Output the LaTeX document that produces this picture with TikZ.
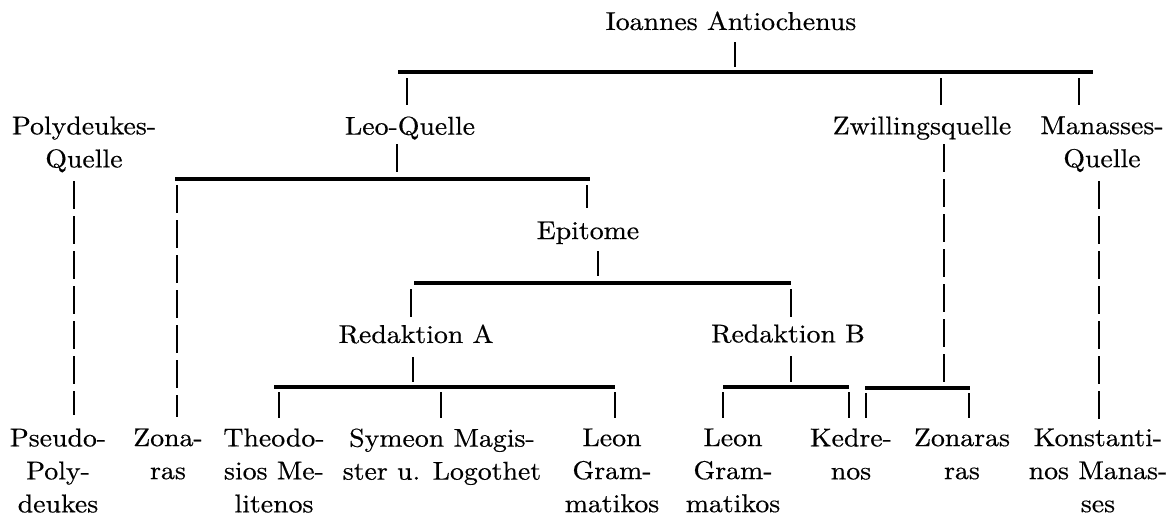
\documentclass[tikz,border=0pt]{standalone}
\usepackage{fontspec}
\setmainfont{lmroman10-regular.otf}[FakeStretch=1.08,FakeBold=0.5]
\begin{document}
\begin{tikzpicture}[x=0.4pt,y=-0.4pt,
  lbl/.style={anchor=north, inner sep=0pt, align=center, font=\fontsize{10.3}{13.2}\selectfont},
  bar/.style={line width=1.3pt},
  tick/.style={line width=0.7pt},
  dsh/.style={line width=0.7pt, dash pattern=on 11pt off 3pt}]
\useasboundingbox (0,0) rectangle (1168,522);
\fill[white] (0,0) rectangle (1168,522);
% labels
\node[lbl] (ioannes) at (731,11) {Ioannes Antiochenus};
\node[lbl] (polyq) at (84,116) {Polydeukes-\\Quelle};
\node[lbl] (leo) at (410,116) {Leo-Quelle};
\node[lbl] (zwill) at (922,116) {Zwillingsquelle};
\node[lbl] (manq) at (1102,116) {Manasses-\\Quelle};
\node[lbl] (epitome) at (588,221) {Epitome};
\node[lbl] (redA) at (416,324) {Redaktion A};
\node[lbl] (redB) at (788,324) {Redaktion B};
\node[lbl] (pseudo) at (58,428) {Pseudo-\\Poly-\\deukes};
\node[lbl] (zon1) at (168,428) {Zona-\\ras};
\node[lbl] (theo) at (274,428) {Theodo-\\sios Me-\\litenos};
\node[lbl] (sym) at (442,428) {Symeon Magis-\\ster u. Logothet};
\node[lbl] (leonA) at (612,428) {Leon\\Gram-\\matikos};
\node[lbl] (leonB) at (733,428) {Leon\\Gram-\\matikos};
\node[lbl] (kedr) at (851,428) {Kedre-\\nos};
\node[lbl] (zon2) at (962,428) {Zonaras\\ras};
\node[lbl] (konst) at (1098,428) {Konstanti-\\nos Manas-\\ses};
% bar coordinates
\coordinate (b1w) at (398,72);  \coordinate (b1e) at (1093,72);
\coordinate (b2w) at (175,179); \coordinate (b2e) at (590,179);
\coordinate (b3w) at (414,283); \coordinate (b3e) at (791,283);
\coordinate (bAw) at (274,387); \coordinate (bAe) at (615,387);
\coordinate (bBw) at (723,387); \coordinate (bBe) at (849,387);
\coordinate (bZw) at (865,388); \coordinate (bZe) at (970,388);
% junctions
\coordinate (j1) at (735,72);
\coordinate (j2) at (407,72);
\coordinate (j3) at (941,72);
\coordinate (j4) at (1079,72);
\coordinate (j5) at (397,179);
\coordinate (j6) at (587,179);
\coordinate (j7) at (177,179);
\coordinate (j8) at (598,283);
\coordinate (j9) at (411,283);
\coordinate (j10) at (791,283);
\coordinate (j11) at (413,387);
\coordinate (j12) at (791,387);
\coordinate (j13) at (279,387);
\coordinate (j14) at (441,387);
\coordinate (j15) at (615,387);
\coordinate (j16) at (723,387);
\coordinate (j17) at (849,387);
\coordinate (j18) at (866,388);
\coordinate (j19) at (969,388);
\coordinate (jz) at (944,388);
\coordinate (cp) at (74,300);
\coordinate (cm) at (1099,300);
% bars
\draw[bar] (b1w) -- (b1e);
\draw[bar] (b2w) -- (b2e);
\draw[bar] (b3w) -- (b3e);
\draw[bar] (bAw) -- (bAe);
\draw[bar] (bBw) -- (bBe);
\draw[bar] (bZw) -- (bZe);
% ticks
\draw[tick,shorten <=4.6pt,shorten >=2pt] (ioannes.south -| j1) -- (j1);
\draw[tick,shorten <=2.4pt,shorten >=4.4pt] (j2) -- (j2 |- leo.north);
\draw[tick,shorten <=2.4pt,shorten >=4.4pt] (j3) -- (j3 |- zwill.north);
\draw[tick,shorten <=2.4pt,shorten >=4.4pt] (j4) -- (j4 |- manq.north);
\draw[tick,shorten <=1.6pt,shorten >=2.8pt] (leo.south -| j5) -- (j5);
\draw[tick,shorten <=2.4pt,shorten >=5.2pt] (j6) -- (j6 |- epitome.north);
\draw[dsh,shorten <=2.4pt,shorten >=4.4pt] (j7) -- (j7 |- zon1.north);
\draw[dsh,shorten <=3.4pt,shorten >=5.2pt] (polyq.south -| cp) -- (pseudo.north -| cp);
\draw[dsh,shorten <=3.4pt,shorten >=3.2pt] (manq.south -| cm) -- (konst.north -| cm);
\draw[dsh,shorten <=1.6pt,shorten >=2.4pt] (zwill.south -| jz) -- (jz);
\draw[tick,shorten <=2.6pt,shorten >=2.8pt] (epitome.south -| j8) -- (j8);
\draw[tick,shorten <=2.4pt,shorten >=2.8pt] (j9) -- (j9 |- redA.north);
\draw[tick,shorten <=2.4pt,shorten >=2.8pt] (j10) -- (j10 |- redB.north);
\draw[tick,shorten <=5.2pt,shorten >=2pt] (redA.south -| j11) -- (j11);
\draw[tick,shorten <=5.2pt,shorten >=2pt] (redB.south -| j12) -- (j12);
\draw[tick,shorten <=2pt,shorten >=4pt] (j13) -- (j13 |- theo.north);
\draw[tick,shorten <=2pt,shorten >=4pt] (j14) -- (j14 |- sym.north);
\draw[tick,shorten <=2pt,shorten >=4pt] (j15) -- (j15 |- leonA.north);
\draw[tick,shorten <=2pt,shorten >=4pt] (j16) -- (j16 |- leonB.north);
\draw[tick,shorten <=2pt,shorten >=4pt] (j17) -- (j17 |- kedr.north);
\draw[tick,shorten <=2pt,shorten >=4pt] (j18) -- (j18 |- kedr.north);
\draw[tick,shorten <=2pt,shorten >=4pt] (j19) -- (j19 |- zon2.north);
\end{tikzpicture}
\end{document}
